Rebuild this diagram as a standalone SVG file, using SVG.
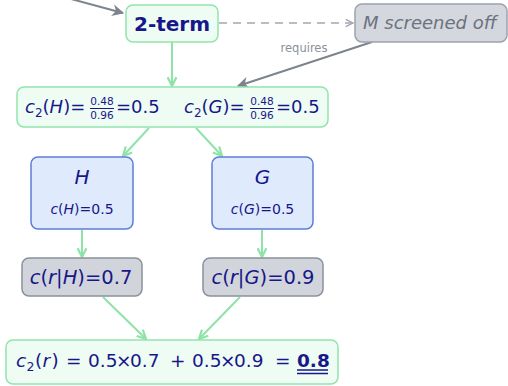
<svg xmlns="http://www.w3.org/2000/svg" width="508" height="386" viewBox="0 0 508 386">
<style>
.t{font-family:"DejaVu Sans","Liberation Sans",sans-serif;fill:#17178a}
.i{font-style:italic}
.gb{fill:#effcf3;stroke:#93e3ad;stroke-width:1.5}
.bb{fill:#dfeafc;stroke:#5d7ed6;stroke-width:1.5}
.rb{fill:#d1d5db;stroke:#8a919b;stroke-width:1.5}
.ge{stroke:#8ee3a8;stroke-width:2;fill:none}
.gy{stroke:#7d848e;stroke-width:2;fill:none}
.fr{font-size:10.5px;text-anchor:middle}
</style>
<defs>
<marker id="ag" viewBox="0 0 10 10" refX="9" refY="5" markerWidth="11" markerHeight="11" markerUnits="userSpaceOnUse" orient="auto"><path d="M1,1 L9,5 L1,9" fill="none" stroke="#8ee3a8" stroke-width="2"/></marker>
<marker id="ay" viewBox="0 0 10 10" refX="9" refY="5" markerWidth="12" markerHeight="12" markerUnits="userSpaceOnUse" orient="auto"><path d="M0,0 L10,5 L0,10 L3,5 z" fill="#7d848e"/></marker>
<marker id="ad" viewBox="0 0 10 10" refX="9" refY="5" markerWidth="9" markerHeight="9" markerUnits="userSpaceOnUse" orient="auto"><path d="M1,1 L9,5 L1,9" fill="none" stroke="#a3a8b0" stroke-width="1.6"/></marker>
</defs>
<g id="connectors">
<path class="gy" d="M60,-4 L123,13" marker-end="url(#ay)"/>
<path d="M219,23 L353,23" stroke="#a3a8b0" stroke-width="1.5" stroke-dasharray="8,6" fill="none" marker-end="url(#ad)"/>
<path class="gy" d="M372,42 L238,86" marker-end="url(#ay)"/>
<text class="t" x="304" y="52" font-size="11.5" text-anchor="middle" style="fill:#8b9099">requires</text>
<path class="ge" d="M172,42 L172,86" marker-end="url(#ag)"/>
<path class="ge" d="M149,128 L123,156" marker-end="url(#ag)"/>
<path class="ge" d="M196,128 L222,156" marker-end="url(#ag)"/>
<path class="ge" d="M82,230 L82,257" marker-end="url(#ag)"/>
<path class="ge" d="M262,230 L262,257" marker-end="url(#ag)"/>
<path class="ge" d="M103,297 L146,339" marker-end="url(#ag)"/>
<path class="ge" d="M240,297 L199,339" marker-end="url(#ag)"/>
</g>
<g id="two-term">
<rect class="gb" x="126" y="5" width="92" height="37" rx="7"/>
<text class="t" x="172" y="31" font-size="20" font-weight="bold" text-anchor="middle">2-term</text>
</g>
<g id="m-screened">
<rect x="355" y="4" width="152" height="38" rx="7" fill="#d4d7dd" stroke="#9ca3ad" stroke-width="1.5"/>
<text class="t i" x="363" y="29" font-size="18" style="fill:#6b7280">M screened off</text>
</g>
<g id="c2-node">
<rect class="gb" x="17" y="87" width="311" height="40" rx="7"/>
<text class="t" font-size="18" x="25" y="113"><tspan class="i">c</tspan><tspan y="117" font-size="12">2</tspan><tspan y="113">(</tspan><tspan class="i">H</tspan>)=</text>
<text class="t" font-size="18" x="116" y="113">=0.5</text>
<text class="t fr" x="102" y="104.5">0.48</text>
<text class="t fr" x="102" y="118.5">0.96</text>
<path d="M90,108.5 L114,108.5" stroke="#17178a" stroke-width="1"/>
<text class="t" font-size="18" x="184" y="113"><tspan class="i">c</tspan><tspan y="117" font-size="12">2</tspan><tspan y="113">(</tspan><tspan class="i">G</tspan>)=</text>
<text class="t" font-size="18" x="276" y="113">=0.5</text>
<text class="t fr" x="262" y="104.5">0.48</text>
<text class="t fr" x="262" y="118.5">0.96</text>
<path d="M250,108.5 L274,108.5" stroke="#17178a" stroke-width="1"/>
</g>
<g id="H">
<rect class="bb" x="31" y="157" width="102" height="72" rx="7"/>
<text class="t i" x="82" y="184" font-size="20" text-anchor="middle">H</text>
<text class="t" x="82" y="214" font-size="14" text-anchor="middle"><tspan class="i">c</tspan>(<tspan class="i">H</tspan>)=0.5</text>
</g>
<g id="G">
<rect class="bb" x="212" y="157" width="101" height="72" rx="7"/>
<text class="t i" x="262.5" y="184" font-size="20" text-anchor="middle">G</text>
<text class="t" x="262.5" y="214" font-size="14" text-anchor="middle"><tspan class="i">c</tspan>(<tspan class="i">G</tspan>)=0.5</text>
</g>
<g id="rH">
<rect class="rb" x="22" y="258" width="120" height="38" rx="7"/>
<text class="t" x="81" y="284" font-size="19.5" text-anchor="middle"><tspan class="i">c</tspan>(<tspan class="i">r</tspan>|<tspan class="i">H</tspan>)=0.7</text>
</g>
<g id="rG">
<rect class="rb" x="203" y="258" width="120" height="38" rx="7"/>
<text class="t" x="263" y="284" font-size="19.5" text-anchor="middle"><tspan class="i">c</tspan>(<tspan class="i">r</tspan>|<tspan class="i">G</tspan>)=0.9</text>
</g>
<g id="result">
<rect class="gb" x="6" y="340" width="332" height="44" rx="7"/>
<text class="t" font-size="18.5" y="367"><tspan class="i" x="16">c</tspan><tspan x="26.5" y="371" font-size="12.5">2</tspan><tspan x="35" y="367">(</tspan><tspan class="i" x="42.5">r</tspan><tspan x="51.5">)</tspan><tspan x="66">=</tspan><tspan x="88">0.5</tspan><tspan x="116">×</tspan><tspan x="130">0.7</tspan><tspan x="170">+</tspan><tspan x="192">0.5</tspan><tspan x="220">×</tspan><tspan x="234">0.9</tspan><tspan x="275">=</tspan><tspan x="297" font-weight="bold">0.8</tspan></text>
<path d="M297,370 L328,370 M297,373.5 L328,373.5" stroke="#17178a" stroke-width="1.3"/>
</g>
</svg>
